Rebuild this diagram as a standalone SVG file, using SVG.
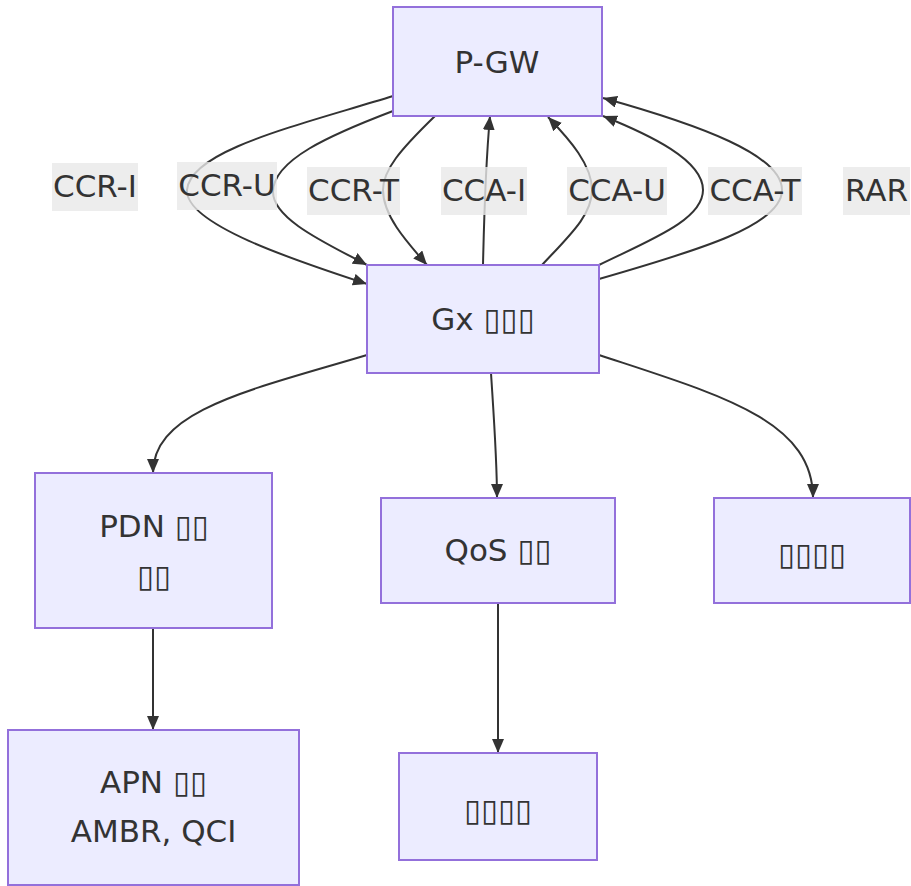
<svg xmlns="http://www.w3.org/2000/svg" width="911" height="886" viewBox="0 0 911 886">
<style>
.node rect{fill:#ECECFF;stroke:#9370DB;stroke-width:2}
text{font-family:"DejaVu Sans","Liberation Sans",sans-serif;font-size:31px;fill:#333;text-anchor:middle}
.edge{fill:none;stroke:#333;stroke-width:2;marker-end:url(#arrow)}
.lbg{fill:rgb(232,232,232);fill-opacity:0.8}
.tofu{font-family:"DejaVu Sans",sans-serif;font-size:31px}
</style>
<defs>
<marker id="arrow" markerUnits="userSpaceOnUse" markerWidth="14" markerHeight="12" refX="14" refY="6" orient="auto" viewBox="0 0 14 12">
<path d="M0,0 L14,6 L0,12 z" fill="#333"/>
</marker>
</defs>
<rect width="911" height="886" fill="#fff"/>
<g id="edges">
<path class="edge" d="M393,96 C300,125 190,150 187,190 C185,225 300,262 367,284"/>
<path class="edge" d="M393,111 C330,135 273,160 273,192 C273,220 330,245 367,265"/>
<path class="edge" d="M435,116 C400,150 383,170 383,190 C383,215 405,240 427,265"/>
<path class="edge" d="M483,265 C484,220 486,160 490,116"/>
<path class="edge" d="M542,265 C570,235 592,215 592,190 C592,165 570,140 548,117"/>
<path class="edge" d="M599,265 C650,240 703,220 703,190 C703,160 650,135 603,116"/>
<path class="edge" d="M599,279 C700,250 782,225 782,190 C782,155 700,125 603,98"/>
<path class="edge" d="M367,355 C250,390 153,410 153,473"/>
<path class="edge" d="M491,373 C494,420 497,460 497,498"/>
<path class="edge" d="M599,355 C720,395 813,420 813,498"/>
<path class="edge" d="M153,628 L153,730"/>
<path class="edge" d="M498,603 L498,753"/>
</g>
<g id="edge-labels">
<g><rect class="lbg" x="52" y="163" width="86" height="48"/><text x="95" y="197">CCR-I</text></g>
<g><rect class="lbg" x="177" y="162" width="100" height="48"/><text x="227" y="196">CCR-U</text></g>
<g><rect class="lbg" x="307" y="167" width="93" height="48"/><text x="353.5" y="201">CCR-T</text></g>
<g><rect class="lbg" x="441" y="167" width="86" height="48"/><text x="484" y="201">CCA-I</text></g>
<g><rect class="lbg" x="567" y="167" width="100" height="48"/><text x="617" y="201">CCA-U</text></g>
<g><rect class="lbg" x="708" y="167" width="94" height="48"/><text x="755" y="201">CCA-T</text></g>
<g><rect class="lbg" x="843" y="167" width="67" height="48"/><text x="876.5" y="201">RAR</text></g>
</g>
<g id="pgw" class="node"><rect x="393" y="7" width="209" height="109"/><text x="497" y="73">P-GW</text></g>
<g id="gx" class="node"><rect x="367" y="265" width="232" height="108"/><text x="483" y="330">Gx <tspan class="tofu">▯▯▯</tspan></text></g>
<g id="pdn" class="node"><rect x="35" y="473" width="237" height="155"/><text x="154" y="537">PDN <tspan class="tofu">▯▯</tspan></text><text x="154" y="587"><tspan class="tofu">▯▯</tspan></text></g>
<g id="qos" class="node"><rect x="381" y="498" width="234" height="105"/><text x="498" y="561">QoS <tspan class="tofu">▯▯</tspan></text></g>
<g id="right" class="node"><rect x="714" y="498" width="196" height="105"/><text x="812" y="565"><tspan class="tofu">▯▯▯▯</tspan></text></g>
<g id="apn" class="node"><rect x="8" y="730" width="291" height="155"/><text x="153.5" y="793">APN <tspan class="tofu">▯▯</tspan></text><text x="153.5" y="842">AMBR, QCI</text></g>
<g id="bottom" class="node"><rect x="399" y="753" width="198" height="107"/><text x="498" y="821"><tspan class="tofu">▯▯▯▯</tspan></text></g>
</svg>
